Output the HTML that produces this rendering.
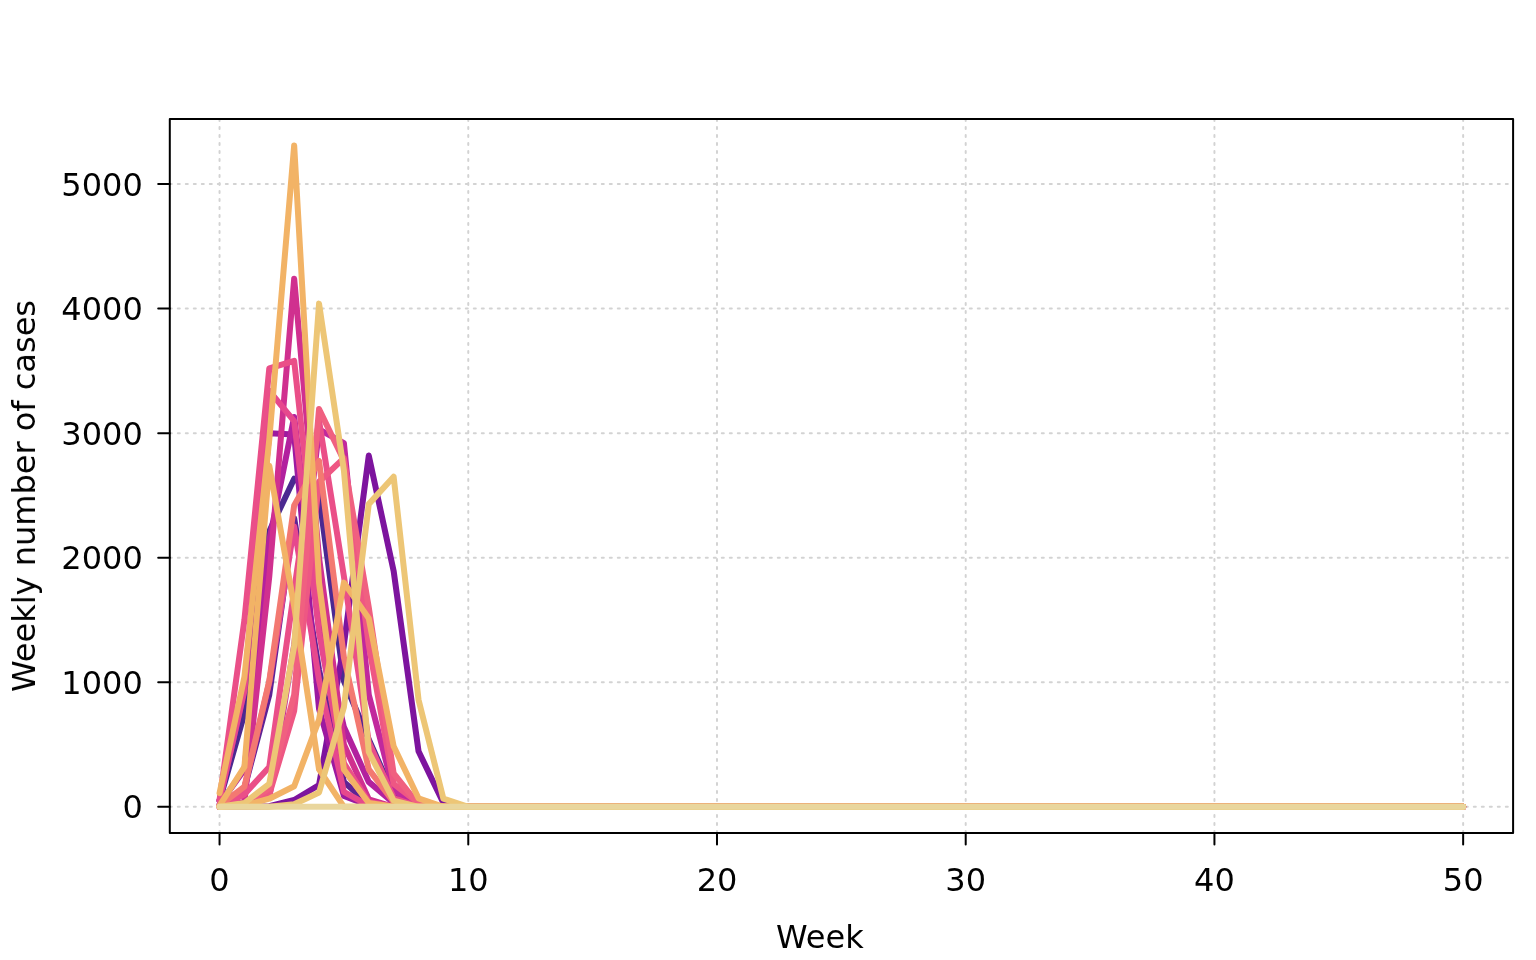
<!DOCTYPE html>
<html lang="en">
<head>
<meta charset="utf-8">
<title>Weekly number of cases</title>
<style>
  html, body { margin: 0; padding: 0; background: #ffffff; }
  body { width: 1536px; height: 960px; overflow: hidden; }
  svg { display: block; }
  text { font-family: "DejaVu Sans", "Liberation Sans", sans-serif; font-size: 32px; fill: #000000; }
  .grid line { stroke: #d3d3d3; stroke-width: 2; stroke-dasharray: 2 6; stroke-linecap: round; }
  .axis line { stroke: #000000; stroke-width: 2; stroke-linecap: round; }
  .curves polyline { fill: none; stroke-width: 6; stroke-linecap: round; stroke-linejoin: round; }
</style>
</head>
<body>
<svg width="1536" height="960" viewBox="0 0 1536 960">
<rect x="0" y="0" width="1536" height="960" fill="#ffffff"/>
<g class="grid">
<line x1="219.55" y1="832.9" x2="219.55" y2="119"/>
<line x1="468.27" y1="832.9" x2="468.27" y2="119"/>
<line x1="716.99" y1="832.9" x2="716.99" y2="119"/>
<line x1="965.71" y1="832.9" x2="965.71" y2="119"/>
<line x1="1214.43" y1="832.9" x2="1214.43" y2="119"/>
<line x1="1463.15" y1="832.9" x2="1463.15" y2="119"/>
<line x1="169.8" y1="806.8" x2="1513.1" y2="806.8"/>
<line x1="169.8" y1="682.25" x2="1513.1" y2="682.25"/>
<line x1="169.8" y1="557.7" x2="1513.1" y2="557.7"/>
<line x1="169.8" y1="433.15" x2="1513.1" y2="433.15"/>
<line x1="169.8" y1="308.6" x2="1513.1" y2="308.6"/>
<line x1="169.8" y1="184.05" x2="1513.1" y2="184.05"/>
</g>
<g class="curves">
<polyline stroke="#4B2991" points="219.55,800.57 244.42,713.39 269.29,531.3 294.17,478.74 319.04,495.42 343.91,681 368.78,739.54 393.65,795.22 418.53,804.93 443.4,806.8 1463.15,806.8"/>
<polyline stroke="#5E2394" points="219.55,806.8 244.42,788.12 269.29,694.7 294.17,518.34 319.04,669.79 343.91,781.89 368.78,804.31 393.65,806.8 1463.15,806.8"/>
<polyline stroke="#7D149E" points="219.55,806.8 244.42,806.8 269.29,806.18 294.17,799.95 319.04,785 343.91,644.88 368.78,455.57 393.65,571.03 418.53,751.25 443.4,803.06 468.27,806.8 1463.15,806.8"/>
<polyline stroke="#9C1AA0" points="219.55,800.57 244.42,689.72 269.29,433.15 294.17,434.4 319.04,709.03 343.91,795.96 368.78,805.55 393.65,806.8 1463.15,806.8"/>
<polyline stroke="#B2219E" points="219.55,804.31 244.42,769.43 269.29,540.26 294.17,416.96 319.04,618.98 343.91,727.09 368.78,781.89 393.65,803.06 418.53,806.8 1463.15,806.8"/>
<polyline stroke="#C1289D" points="219.55,806.8 244.42,805.55 269.29,797.46 294.17,644.88 319.04,429.41 343.91,443.11 368.78,694.7 393.65,790.61 418.53,804.93 443.4,806.8 1463.15,806.8"/>
<polyline stroke="#D0308F" points="219.55,806.8 244.42,801.82 269.29,576.38 294.17,278.71 319.04,557.7 343.91,744.52 368.78,799.33 393.65,806.8 1463.15,806.8"/>
<polyline stroke="#E6488D" points="219.55,805.8 244.42,788.12 269.29,682.25 294.17,526.56 319.04,680.01 343.91,791.85 368.78,805.55 393.65,806.8 1463.15,806.8"/>
<polyline stroke="#E6488D" points="219.55,800.57 244.42,690.47 269.29,390.8 294.17,421.19 319.04,632.43 343.91,769.43 368.78,803.06 393.65,806.8 1463.15,806.8"/>
<polyline stroke="#EA4F88" points="219.55,799.95 244.42,619.97 269.29,368.38 294.17,360.91 319.04,588.84 343.91,763.21 368.78,801.82 393.65,806.8 1463.15,806.8"/>
<polyline stroke="#EA4F88" points="219.55,806.8 244.42,794.34 269.29,766.94 294.17,590.08 319.04,420.69 343.91,576.38 368.78,742.03 393.65,798.08 418.53,806.8 1463.15,806.8"/>
<polyline stroke="#EE5783" points="219.55,806.8 244.42,805.55 269.29,794.34 294.17,710.9 319.04,481.72 343.91,458.06 368.78,644.88 393.65,783.76 418.53,803.06 443.4,806.8 1463.15,806.8"/>
<polyline stroke="#F06080" points="219.55,806.8 244.42,804.31 269.29,788.12 294.17,694.7 319.04,409.11 343.91,460.55 368.78,607.52 393.65,773.42 418.53,804.56 443.4,806.8 1463.15,806.8"/>
<polyline stroke="#F37971" points="219.55,805.55 244.42,786.62 269.29,681 294.17,505.39 319.04,460.92 343.91,657.34 368.78,769.43 393.65,801.82 418.53,806.8 1463.15,806.8"/>
<polyline stroke="#F2B366" points="219.55,805.55 244.42,766.94 269.29,465.78 294.17,606.27 319.04,769.43 343.91,806.8 1463.15,806.8"/>
<polyline stroke="#F2B366" points="219.55,806.8 244.42,805.55 269.29,798.7 294.17,786.25 319.04,719.62 343.91,582.61 368.78,618.36 393.65,746.27 418.53,798.33 443.4,806.8 1463.15,806.8"/>
<polyline stroke="#F2B366" points="219.55,793.1 244.42,676.77 269.29,439.38 294.17,145.44 319.04,582.61 343.91,769.43 368.78,803.06 393.65,806.8 1463.15,806.8"/>
<polyline stroke="#EDC676" points="219.55,806.8 244.42,803.06 269.29,783.76 294.17,646.13 319.04,303.62 343.91,470.51 368.78,752 393.65,800.57 418.53,806.8 1463.15,806.8"/>
<polyline stroke="#EDC676" points="219.55,806.8 244.42,806.8 269.29,806.8 294.17,804.31 319.04,792.48 343.91,707.16 368.78,504.14 393.65,476.74 418.53,699.69 443.4,798.7 468.27,806.8 1463.15,806.8"/>
<polyline stroke="#E9D69D" points="219.55,806.8 244.42,806.8 1463.15,806.8"/>
</g>
<g class="axis">
<rect x="169.8" y="119" width="1343.3" height="713.9" fill="none" stroke="#000" stroke-width="2" stroke-linejoin="round"/>
<line x1="219.55" y1="832.9" x2="219.55" y2="844.5"/>
<line x1="468.27" y1="832.9" x2="468.27" y2="844.5"/>
<line x1="716.99" y1="832.9" x2="716.99" y2="844.5"/>
<line x1="965.71" y1="832.9" x2="965.71" y2="844.5"/>
<line x1="1214.43" y1="832.9" x2="1214.43" y2="844.5"/>
<line x1="1463.15" y1="832.9" x2="1463.15" y2="844.5"/>
<line x1="169.8" y1="806.8" x2="158.2" y2="806.8"/>
<line x1="169.8" y1="682.25" x2="158.2" y2="682.25"/>
<line x1="169.8" y1="557.7" x2="158.2" y2="557.7"/>
<line x1="169.8" y1="433.15" x2="158.2" y2="433.15"/>
<line x1="169.8" y1="308.6" x2="158.2" y2="308.6"/>
<line x1="169.8" y1="184.05" x2="158.2" y2="184.05"/>
</g>
<g class="labels" opacity="0.999">
<text x="219.55" y="890.7" text-anchor="middle">0</text>
<text x="468.27" y="890.7" text-anchor="middle">10</text>
<text x="716.99" y="890.7" text-anchor="middle">20</text>
<text x="965.71" y="890.7" text-anchor="middle">30</text>
<text x="1214.43" y="890.7" text-anchor="middle">40</text>
<text x="1463.15" y="890.7" text-anchor="middle">50</text>
<text x="142.8" y="818.4" text-anchor="end">0</text>
<text x="142.8" y="693.85" text-anchor="end">1000</text>
<text x="142.8" y="569.3" text-anchor="end">2000</text>
<text x="142.8" y="444.75" text-anchor="end">3000</text>
<text x="142.8" y="320.2" text-anchor="end">4000</text>
<text x="142.8" y="195.65" text-anchor="end">5000</text>
<text x="819.85" y="948" text-anchor="middle">Week</text>
<text transform="translate(35 495.95) rotate(-90)" text-anchor="middle">Weekly number of cases</text>
</g>
</svg>
</body>
</html>
